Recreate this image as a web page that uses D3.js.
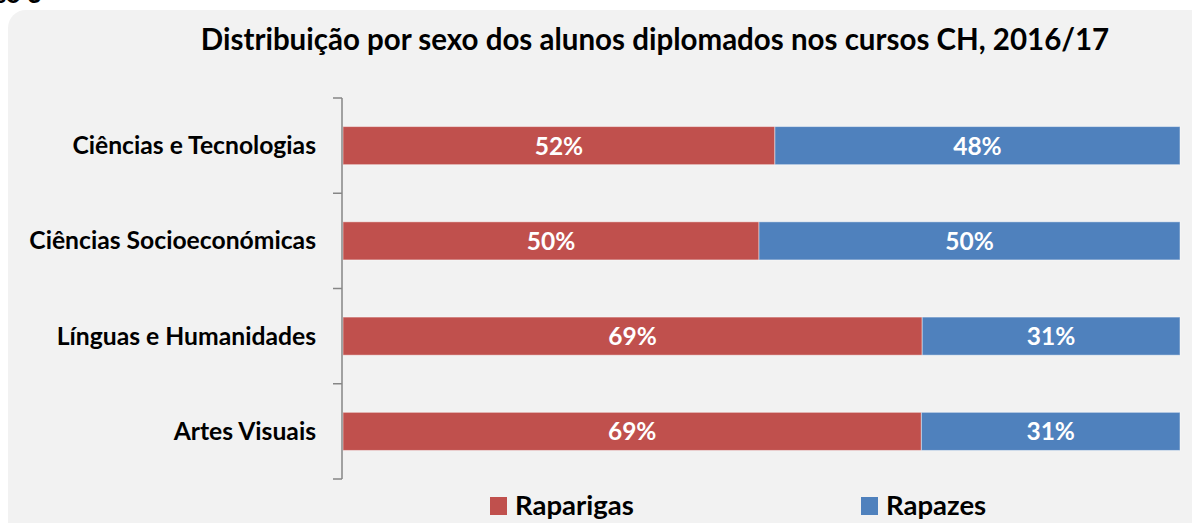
<!DOCTYPE html>
<html>
<head>
<meta charset="utf-8">
<script src="https://cdn.jsdelivr.net/npm/d3@7"></script>
<style>
  html, body { margin: 0; padding: 0; background: #fff; }
  svg { display: block; font-family: Lato, "Open Sans", sans-serif; font-weight: 700; }
</style>
</head>
<body>
<div id="chart"></div>
<script>
// data (share of graduates, %)
const categories = ["Ciências e Tecnologias", "Ciências Socioeconómicas", "Línguas e Humanidades", "Artes Visuais"];
const raparigas = [51.6, 49.7, 69.2, 69.1];
const rapazes = [48.4, 50.3, 30.8, 30.9];
const seriesNames = ["Raparigas", "Rapazes"];
const colors = ["#c0504d", "#4f81bd"];
const title = "Distribuição por sexo dos alunos diplomados nos cursos CH, 2016/17";

const width = 1192, height = 523;

const svg = d3.select("#chart").append("svg")
  .attr("width", width).attr("height", height)
  .attr("viewBox", [0, 0, width, height]);

// caption cut off at the top of the page, as in the original
svg.append("text").attr("x", 42).attr("y", 3).attr("text-anchor", "end")
  .attr("font-size", "26px").attr("fill", "#000").text("Gráfico 3");

// chart area (runs off the right and bottom edges)
svg.append("rect").attr("x", 8).attr("y", 10).attr("width", 1220).attr("height", 560)
  .attr("rx", 18).attr("fill", "#f2f2f2");

svg.append("text").attr("x", 655).attr("y", 50).attr("text-anchor", "middle")
  .attr("font-size", "29.5px").attr("fill", "#000").text(title);

const x = d3.scaleLinear().domain([0, 100]).range([343, 1180]);
const y = d3.scaleBand().domain(categories).range([98, 479]).paddingInner(0.6).paddingOuter(0.3);

const rows = categories.map((c, i) => ({ cat: c, vals: [raparigas[i], rapazes[i]] }));
const stack = d3.stack().keys([0, 1]).value((d, k) => d.vals[k]);
const layers = stack(rows);

const g = svg.append("g");
layers.forEach((layer, k) => {
  g.selectAll(null).data(layer).join("rect")
    .attr("x", d => x(d[0]))
    .attr("y", d => y(d.data.cat))
    .attr("width", d => x(d[1]) - x(d[0]))
    .attr("height", y.bandwidth())
    .attr("fill", colors[k])
    .attr("stroke", "rgba(255,255,255,0.45)").attr("stroke-width", 1);

  g.selectAll(null).data(layer).join("text")
    .attr("x", d => (x(d[0]) + x(d[1])) / 2)
    .attr("y", d => y(d.data.cat) + y.bandwidth() / 2)
    .attr("dy", 9)
    .attr("text-anchor", "middle")
    .attr("font-size", "24.5px").attr("fill", "#fff")
    .text(d => Math.round(d[1] - d[0]) + "%");
});

// category axis with ticks at band boundaries
const axis = svg.append("g").attr("stroke", "#868686").attr("stroke-width", 1.5);
const x0 = 342;
axis.append("line").attr("x1", x0).attr("x2", x0).attr("y1", y.range()[0]).attr("y2", y.range()[1]);
d3.range(categories.length + 1).forEach(i => {
  const ty = y.range()[0] + i * y.step();
  axis.append("line").attr("x1", x0 - 9).attr("x2", x0).attr("y1", ty).attr("y2", ty);
});

svg.append("g").selectAll("text").data(categories).join("text")
  .attr("x", 316).attr("y", d => y(d) + y.bandwidth() / 2).attr("dy", 8.5)
  .attr("text-anchor", "end").attr("font-size", "24.7px").attr("fill", "#000")
  .text(d => d);

// legend
const legendX = [490, 861];
const legend = svg.append("g").selectAll("g").data(seriesNames).join("g")
  .attr("transform", (d, i) => `translate(${legendX[i]},497)`);
legend.append("rect").attr("width", 17).attr("height", 18).attr("fill", (d, i) => colors[i]);
legend.append("text").attr("x", 25).attr("y", 18).attr("font-size", "27.5px").attr("fill", "#000").text(d => d);
</script>
</body>
</html>
